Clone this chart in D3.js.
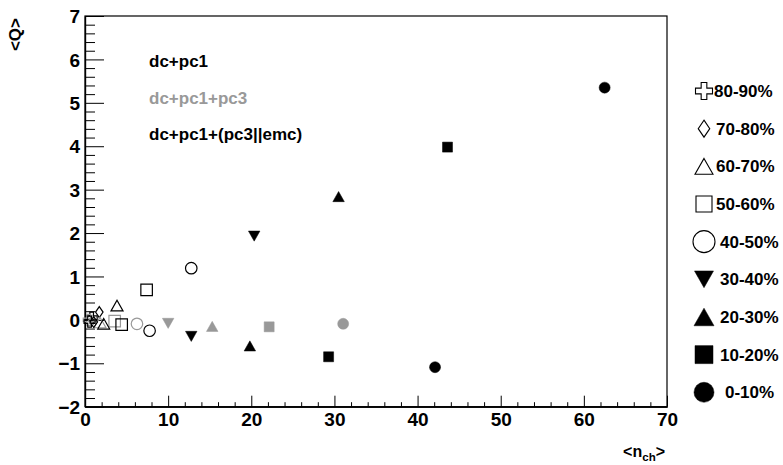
<!DOCTYPE html>
<html><head><meta charset="utf-8">
<script src="https://cdn.jsdelivr.net/npm/d3@7"></script>
<style>
body{margin:0;background:#fff}
svg{display:block;font-family:"Liberation Sans",Arial,Helvetica,sans-serif;font-weight:bold}
</style>
</head><body>
<svg id="chart" width="783" height="465"></svg>
<script>
// ---------------- data ----------------
const centralities = ["80-90%","70-80%","60-70%","50-60%","40-50%","30-40%","20-30%","10-20%","0-10%"];
const markerTypes  = ["openCross","openDiamond","openTriangleUp","openSquare","openCircle","triangleDown","triangleUp","square","circle"];

const seriesNames  = ["dc+pc1","dc+pc1+pc3","dc+pc1+(pc3||emc)"];
const seriesColors = ["#000000","#999999","#000000"];

const nchDcPc1   = [0.8, 1.72, 3.85, 7.41, 12.78, 20.35, 30.5, 43.6, 62.5];
const qDcPc1     = [0.05, 0.18, 0.33, 0.69, 1.19, 1.93, 2.84, 3.98, 5.35];

const nchDcPc1Pc3 = [0.45, 0.85, 1.8, 3.57, 6.25, 10.0, 15.3, 22.15, 31.05];
const qDcPc1Pc3   = [0.0, -0.02, -0.06, -0.03, -0.09, -0.08, -0.15, -0.16, -0.09];

const nchDcPc1Emc = [0.55, 1.05, 2.25, 4.41, 7.77, 12.78, 19.83, 29.3, 42.1];
const qDcPc1Emc   = [-0.04, -0.05, -0.09, -0.11, -0.25, -0.38, -0.60, -0.85, -1.09];

const xTicks = [0,10,20,30,40,50,60,70];
const yTicks = [-2,-1,0,1,2,3,4,5,6,7];
const xTitle = ["<n", "ch", ">"];
const yTitle = "<Q>";

// ---------------- layout ----------------
const svg = d3.select("#chart");
const L = 85, R = 667, T = 16, B = 406.7;
const x = d3.scaleLinear().domain([0,70]).range([L,R]);
const y = d3.scaleLinear().domain([-2,7]).range([B,T]);

// marker path generator (centered on 0,0)
function markerPath(type, s){
  const h = s/2;
  switch(type){
    case "circle": case "openCircle":
      return `M${h},0A${h},${h} 0 1,1 ${-h},0A${h},${h} 0 1,1 ${h},0Z`;
    case "square": case "openSquare":
      return `M${-h},${-h}H${h}V${h}H${-h}Z`;
    case "triangleUp": case "openTriangleUp": {
      const th = s*0.88/2;
      return `M0,${-th}L${h},${th}L${-h},${th}Z`;
    }
    case "triangleDown": {
      const th = s*0.88/2;
      return `M0,${th}L${h},${-th}L${-h},${-th}Z`;
    }
    case "openDiamond": {
      const w = s*0.34;
      return `M0,${-h}L${w},0L0,${h}L${-w},0Z`;
    }
    case "openCross": {
      const a = s/6;
      return `M${-a},${-h}H${a}V${-a}H${h}V${a}H${a}V${h}H${-a}V${a}H${-h}V${-a}H${-a}Z`;
    }
  }
}
const isOpen = t => t.startsWith("open");

// ---------------- axes ----------------
const xMinor = d3.range(0,70.001,2).filter(v => Math.abs(v%10) > 1e-6);
const yMinor = d3.range(-2,7.001,0.2).map(v=>+v.toFixed(1)).filter(v => Math.abs(v - Math.round(v)) > 1e-6);

const gxMinor = svg.append("g").attr("transform",`translate(0,${B})`)
  .call(d3.axisBottom(x).tickValues(xMinor).tickSizeInner(-4.5).tickSizeOuter(0).tickFormat(""));
const gyMinor = svg.append("g").attr("transform",`translate(${L},0)`)
  .call(d3.axisLeft(y).tickValues(yMinor).tickSizeInner(-10).tickSizeOuter(0).tickFormat(""));

const gx = svg.append("g").attr("transform",`translate(0,${B})`)
  .call(d3.axisBottom(x).tickValues(xTicks).tickSizeInner(-11).tickSizeOuter(0).tickPadding(6).tickFormat(d3.format("d")));
const gy = svg.append("g").attr("transform",`translate(${L},0)`)
  .call(d3.axisLeft(y).tickValues(yTicks).tickSizeInner(-19).tickSizeOuter(0).tickPadding(5).tickFormat(d3.format("d")));

[gx,gy].forEach(g=>{
  g.selectAll("text").attr("font-size",19).attr("font-weight","bold").attr("fill","#000")
   .attr("font-family",'"Liberation Sans",Arial,sans-serif');
});
gy.selectAll("text").attr("dy","0.35em");
[gx,gy,gxMinor,gyMinor].forEach(g=>{
  g.selectAll("line").attr("stroke","#000").attr("stroke-width",1);
  g.select(".domain").attr("stroke","#000").attr("stroke-width",1.2);
});

// frame
svg.append("rect").attr("x",L).attr("y",T).attr("width",R-L).attr("height",B-T)
  .attr("fill","none").attr("stroke","#000").attr("stroke-width",1.2);

// axis titles
svg.append("text").attr("transform",`translate(21,18) rotate(-90)`)
  .attr("text-anchor","end").attr("font-size",17).attr("font-weight","bold").text(yTitle);

const xt = svg.append("text").attr("x",665).attr("y",457).attr("text-anchor","end")
  .attr("font-size",16).attr("font-weight","bold");
xt.append("tspan").text(xTitle[0]);
xt.append("tspan").attr("font-size",11.5).attr("dy",4).text(xTitle[1]);
xt.append("tspan").attr("dy",-4).text(xTitle[2]);

// series labels
const labelY = [67, 103.5, 140];
seriesNames.forEach((n,i)=>{
  svg.append("text").attr("x",149).attr("y",labelY[i]).attr("font-size",17)
    .attr("font-weight","bold").attr("fill",seriesColors[i]).text(n);
});

// ---------------- points ----------------
const series = [
  {nch:nchDcPc1,    q:qDcPc1,    color:seriesColors[0]},
  {nch:nchDcPc1Pc3, q:qDcPc1Pc3, color:seriesColors[1]},
  {nch:nchDcPc1Emc, q:qDcPc1Emc, color:seriesColors[2]}
];
const plotSize = {circle:11, square:10, triangleUp:11.5, triangleDown:11.5, openCircle:11.5, openSquare:11.5, openTriangleUp:12, openDiamond:11, openCross:11};

const pts = svg.append("g");
series.forEach(s=>{
  s.nch.forEach((v,i)=>{
    const t = markerTypes[i];
    pts.append("path")
      .attr("transform",`translate(${x(v)},${y(s.q[i])})`)
      .attr("d",markerPath(t,plotSize[t]))
      .attr("fill", isOpen(t) ? "none" : s.color)
      .attr("stroke", s.color)
      .attr("stroke-width", isOpen(t) ? 1.2 : 0.5);
  });
});

// ---------------- legend ----------------
const legSize = {circle:20, square:18, triangleUp:20, triangleDown:19, openCircle:22, openSquare:16, openTriangleUp:18, openDiamond:17, openCross:17};
const legTextX = [714,716,716,716,720,720,720,720,725];
const leg = svg.append("g");
centralities.forEach((c,i)=>{
  const yy = 91 + i*37.66;
  const t = markerTypes[i];
  leg.append("path").attr("transform",`translate(704,${yy})`)
    .attr("d",markerPath(t,legSize[t]))
    .attr("fill", isOpen(t) ? "none" : "#000")
    .attr("stroke","#000").attr("stroke-width", isOpen(t)?1.1:0.5);
  leg.append("text").attr("x",legTextX[i]).attr("y",yy).attr("dy","0.36em")
    .attr("font-size",17).attr("font-weight","bold").text(c);
});
</script>
</body></html>
